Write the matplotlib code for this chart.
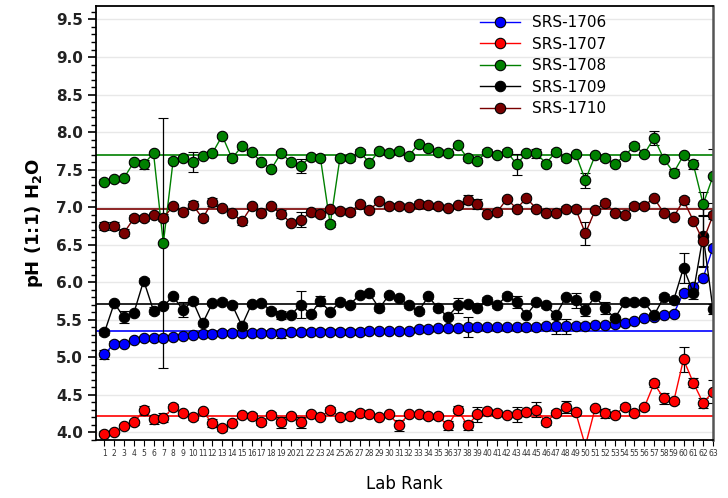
import matplotlib
matplotlib.use('Agg')
import matplotlib.pyplot as plt  # noqa E402
import numpy as np  # noqa E402
from matplotlib.ticker import MultipleLocator, FormatStrFormatter  # noqa E402

ranks = list(range(1, 64))
series_names = ["SRS-1706", "SRS-1707", "SRS-1708", "SRS-1709", "SRS-1710"]
series_colors = ["#0000ff", "#ff0000", "#008000", "#000000", "#7a0000"]

srs1706 = [5.04, 5.18, 5.18, 5.23, 5.25, 5.26, 5.26, 5.27, 5.28, 5.30,
           5.31, 5.31, 5.32, 5.32, 5.32, 5.32, 5.32, 5.32, 5.32, 5.33,
           5.33, 5.34, 5.34, 5.34, 5.34, 5.34, 5.34, 5.35, 5.35, 5.35,
           5.35, 5.35, 5.37, 5.37, 5.39, 5.39, 5.39, 5.40, 5.40, 5.40,
           5.40, 5.40, 5.40, 5.40, 5.40, 5.41, 5.41, 5.41, 5.41, 5.42,
           5.43, 5.43, 5.44, 5.46, 5.48, 5.52, 5.54, 5.56, 5.58, 5.86,
           5.93, 6.06, 6.46]
srs1707 = [3.98, 4.00, 4.08, 4.13, 4.29, 4.17, 4.19, 4.33, 4.25, 4.20,
           4.28, 4.12, 4.05, 4.12, 4.23, 4.22, 4.13, 4.23, 4.13, 4.21,
           4.13, 4.24, 4.20, 4.30, 4.20, 4.22, 4.26, 4.24, 4.20, 4.24,
           4.09, 4.24, 4.24, 4.21, 4.21, 4.09, 4.30, 4.09, 4.24, 4.28,
           4.26, 4.23, 4.24, 4.27, 4.30, 4.13, 4.26, 4.33, 4.27, 3.82,
           4.32, 4.25, 4.23, 4.34, 4.26, 4.33, 4.65, 4.45, 4.41, 4.97,
           4.66, 4.39, 4.54]
srs1708 = [7.34, 7.37, 7.39, 7.60, 7.57, 7.72, 6.52, 7.62, 7.65, 7.60,
           7.68, 7.72, 7.95, 7.65, 7.81, 7.73, 7.60, 7.51, 7.72, 7.60,
           7.55, 7.67, 7.66, 6.77, 7.66, 7.65, 7.74, 7.59, 7.75, 7.72,
           7.75, 7.68, 7.84, 7.79, 7.74, 7.72, 7.83, 7.65, 7.62, 7.74,
           7.70, 7.74, 7.57, 7.72, 7.72, 7.58, 7.74, 7.65, 7.71, 7.36,
           7.69, 7.65, 7.58, 7.68, 7.82, 7.71, 7.92, 7.64, 7.46, 7.69,
           7.57, 7.04, 7.41]
srs1709 = [5.33, 5.72, 5.53, 5.59, 6.02, 5.62, 5.68, 5.81, 5.63, 5.75,
           5.45, 5.72, 5.74, 5.70, 5.42, 5.71, 5.72, 5.62, 5.56, 5.56,
           5.70, 5.57, 5.75, 5.60, 5.74, 5.70, 5.83, 5.85, 5.65, 5.83,
           5.79, 5.69, 5.61, 5.81, 5.65, 5.54, 5.69, 5.71, 5.66, 5.76,
           5.69, 5.82, 5.73, 5.56, 5.73, 5.69, 5.56, 5.80, 5.76, 5.63,
           5.81, 5.65, 5.52, 5.73, 5.73, 5.73, 5.56, 5.80, 5.76, 6.19,
           5.86, 6.62, 5.64]
srs1710 = [6.75, 6.75, 6.66, 6.85, 6.85, 6.89, 6.86, 7.01, 6.94, 7.03,
           6.85, 7.07, 6.99, 6.92, 6.81, 7.01, 6.92, 7.01, 6.91, 6.79,
           6.83, 6.93, 6.91, 6.97, 6.95, 6.93, 7.04, 6.96, 7.08, 7.02,
           7.02, 7.00, 7.04, 7.03, 7.01, 6.99, 7.03, 7.10, 7.04, 6.91,
           6.93, 7.11, 6.98, 7.12, 6.98, 6.92, 6.92, 6.98, 6.98, 6.65,
           6.96, 7.06, 6.92, 6.89, 7.02, 7.02, 7.12, 6.92, 6.87, 7.09,
           6.82, 6.55, 6.89]

# standard deviations (error bars)
err1706 = [0.06, 0.03, 0.03, 0.03, 0.03, 0.03, 0.03, 0.03, 0.03, 0.03,
           0.03, 0.03, 0.03, 0.03, 0.03, 0.03, 0.03, 0.03, 0.06, 0.03,
           0.03, 0.03, 0.03, 0.03, 0.04, 0.04, 0.04, 0.03, 0.03, 0.03,
           0.03, 0.03, 0.03, 0.03, 0.03, 0.03, 0.03, 0.13, 0.03, 0.03,
           0.03, 0.03, 0.03, 0.03, 0.03, 0.03, 0.10, 0.10, 0.03, 0.03,
           0.03, 0.03, 0.03, 0.03, 0.03, 0.03, 0.03, 0.03, 0.03, 0.03,
           0.03, 0.03, 0.03]
err1707 = [0.03, 0.03, 0.03, 0.03, 0.06, 0.06, 0.06, 0.04, 0.03, 0.04,
           0.03, 0.05, 0.03, 0.03, 0.03, 0.03, 0.03, 0.04, 0.07, 0.03,
           0.07, 0.03, 0.03, 0.03, 0.03, 0.03, 0.03, 0.03, 0.03, 0.03,
           0.07, 0.03, 0.03, 0.03, 0.03, 0.06, 0.05, 0.06, 0.10, 0.03,
           0.03, 0.03, 0.10, 0.03, 0.10, 0.03, 0.03, 0.08, 0.03, 0.03,
           0.03, 0.06, 0.03, 0.03, 0.03, 0.03, 0.05, 0.07, 0.03, 0.17,
           0.06, 0.07, 0.15]
err1708 = [0.03, 0.03, 0.03, 0.03, 0.06, 0.03, 1.67, 0.03, 0.03, 0.13,
           0.03, 0.03, 0.03, 0.03, 0.03, 0.03, 0.03, 0.03, 0.03, 0.03,
           0.09, 0.03, 0.03, 0.04, 0.03, 0.03, 0.03, 0.03, 0.03, 0.03,
           0.03, 0.03, 0.03, 0.03, 0.03, 0.03, 0.03, 0.03, 0.03, 0.03,
           0.03, 0.03, 0.14, 0.03, 0.06, 0.03, 0.03, 0.03, 0.03, 0.10,
           0.03, 0.03, 0.03, 0.03, 0.03, 0.03, 0.09, 0.03, 0.05, 0.03,
           0.06, 0.16, 0.36]
err1709 = [0.04, 0.03, 0.08, 0.03, 0.03, 0.05, 0.03, 0.03, 0.10, 0.04,
           0.03, 0.03, 0.03, 0.03, 0.03, 0.03, 0.03, 0.04, 0.05, 0.03,
           0.18, 0.03, 0.07, 0.03, 0.03, 0.03, 0.03, 0.03, 0.04, 0.03,
           0.03, 0.03, 0.03, 0.03, 0.03, 0.03, 0.10, 0.03, 0.03, 0.04,
           0.03, 0.03, 0.08, 0.03, 0.03, 0.03, 0.03, 0.03, 0.10, 0.08,
           0.04, 0.08, 0.03, 0.03, 0.03, 0.03, 0.03, 0.04, 0.03, 0.20,
           0.09, 0.40, 0.07]
err1710 = [0.05, 0.05, 0.05, 0.04, 0.04, 0.03, 0.05, 0.03, 0.03, 0.05,
           0.03, 0.05, 0.03, 0.03, 0.05, 0.03, 0.03, 0.03, 0.05, 0.03,
           0.10, 0.03, 0.04, 0.03, 0.03, 0.03, 0.03, 0.03, 0.03, 0.03,
           0.03, 0.03, 0.04, 0.03, 0.03, 0.03, 0.03, 0.06, 0.07, 0.03,
           0.03, 0.03, 0.03, 0.03, 0.03, 0.03, 0.03, 0.03, 0.03, 0.15,
           0.03, 0.03, 0.03, 0.03, 0.03, 0.03, 0.03, 0.03, 0.03, 0.05,
           0.03, 0.35, 0.05]

medians = [5.35, 4.22, 7.69, 5.71, 6.97]

values = [srs1706, srs1707, srs1708, srs1709, srs1710]
errors = [err1706, err1707, err1708, err1709, err1710]

fig = plt.figure(figsize=(7.28, 4.98), dpi=100)
ax = fig.add_axes([0.132, 0.117, 0.848, 0.871])

# light horizontal grid at the major ticks
for i in np.arange(4.0, 9.51, 0.5):
    ax.axhline(i, color='#e8e8e8', lw=1.0, zorder=0)

for name, col, vals, err, med in zip(series_names, series_colors, values, errors, medians):
    ax.axhline(med, color=col, lw=1.2, zorder=1)
    ax.errorbar(ranks, vals, yerr=err, color=col, lw=1.0, marker='o', ms=7.5,
                mfc=col, mec='black', mew=0.8, ecolor='black', elinewidth=0.9,
                capsize=3.5, capthick=0.9, label=name, zorder=2)

ax.set_xlim(0.15, 63.05)
ax.set_ylim(3.9, 9.68)
ax.set_xticks(ranks)
ax.set_xticklabels([str(r) for r in ranks], fontsize=5.5, color='#333333')
ax.yaxis.set_major_locator(MultipleLocator(0.5))
ax.yaxis.set_minor_locator(MultipleLocator(0.1))
ax.yaxis.set_major_formatter(FormatStrFormatter('%.1f'))
ax.tick_params(axis='x', direction='out', length=4, width=0.8, pad=3)
ax.tick_params(axis='y', which='major', direction='out', length=6, width=1.2, labelsize=11)
ax.tick_params(axis='y', which='minor', direction='out', length=3.5, width=1.0)
for t in ax.get_yticklabels():
    t.set_fontweight('bold')
    t.set_color('#222222')

for side in ['left', 'bottom', 'top']:
    ax.spines[side].set_linewidth(1.3)
ax.spines['right'].set_color('#555555')
ax.spines['right'].set_linewidth(1.8)

ax.set_ylabel(r'pH (1:1) H$_{\mathbf{2}}$O', fontsize=13, fontweight='bold', labelpad=8)
ax.set_xlabel('Lab Rank', fontsize=12, labelpad=12)

handles, labels = ax.get_legend_handles_labels()
handles = [h[0] for h in handles]
ax.legend(handles, labels, loc='upper left', bbox_to_anchor=(0.6, 1.01), frameon=False,
          fontsize=11, handlelength=2.6, labelspacing=0.42, handletextpad=0.8)

fig.savefig('out.png', dpi=100)
